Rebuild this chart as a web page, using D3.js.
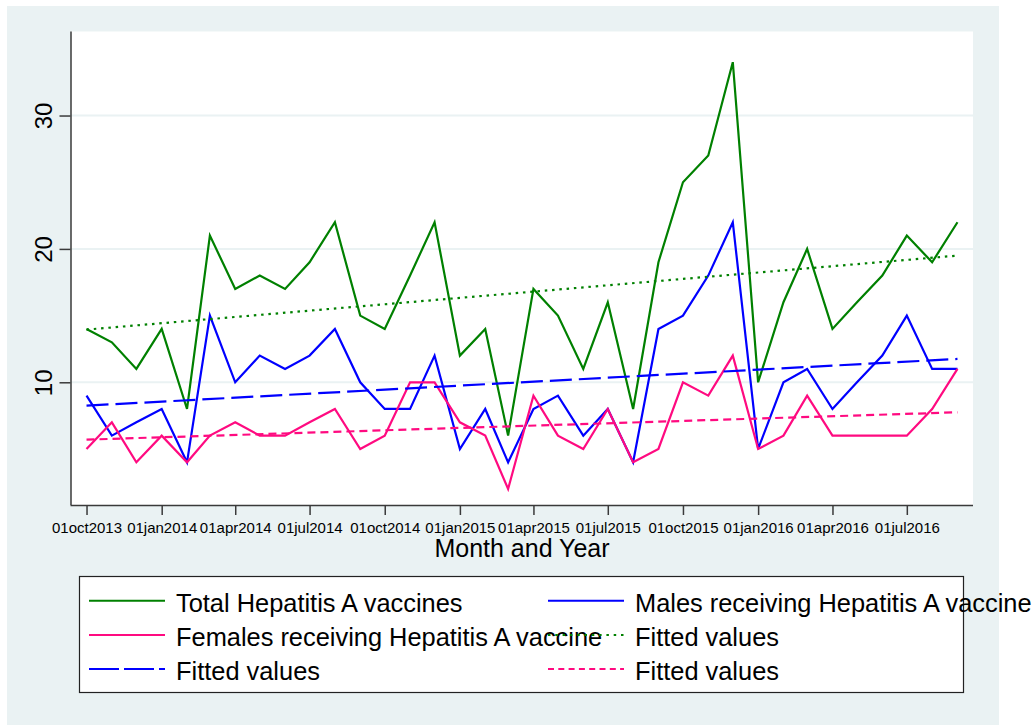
<!DOCTYPE html>
<html>
<head>
<meta charset="utf-8">
<script src="https://cdn.jsdelivr.net/npm/d3@7"></script>
<style>
  body { margin: 0; background: #ffffff; }
  text { font-family: "Liberation Sans", Arial, sans-serif; fill: #000; }
</style>
</head>
<body>
<div id="my_dataviz"></div>
<script>
// monthly data, Oct 2013 - Sep 2016
var months = ["2013-10-01","2013-11-01","2013-12-01","2014-01-01","2014-02-01","2014-03-01",
              "2014-04-01","2014-05-01","2014-06-01","2014-07-01","2014-08-01","2014-09-01",
              "2014-10-01","2014-11-01","2014-12-01","2015-01-01","2015-02-01","2015-03-01",
              "2015-04-01","2015-05-01","2015-06-01","2015-07-01","2015-08-01","2015-09-01",
              "2015-10-01","2015-11-01","2015-12-01","2016-01-01","2016-02-01","2016-03-01",
              "2016-04-01","2016-05-01","2016-06-01","2016-07-01","2016-08-01","2016-09-01"];
var totalVacc  = [14,13,11,14,8,21,17,18,17,19,22,15,14,18,22,12,14,6,17,15,11,16,8,19,25,27,34,10,16,20,14,16,18,21,19,22];
var malesVacc  = [9,6,7,8,4,15,10,12,11,12,14,10,8,8,12,5,8,4,8,9,6,8,4,14,15,18,22,5,10,11,8,10,12,15,11,11];
var femalesVacc = [5,7,4,6,4,6,7,6,6,7,8,5,6,10,10,7,6,2,9,6,5,8,4,5,10,9,12,5,6,9,6,6,6,6,8,11];

// fitted values at first and last month
var fitDates = ["2013-10-01","2016-09-01"];
var fitTotal = [13.95, 19.5];
var fitMales = [8.25, 11.75];
var fitFemales = [5.7, 7.75];

var tickDates = ["2013-10-01","2014-01-01","2014-04-01","2014-07-01","2014-10-01","2015-01-01",
                 "2015-04-01","2015-07-01","2015-10-01","2016-01-01","2016-04-01","2016-07-01"];
var yTicks = [10, 20, 30];

var legendLabels = ["Total Hepatitis A vaccines", "Males receiving Hepatitis A vaccine",
                    "Females receiving Hepatitis A vaccine", "Fitted values",
                    "Fitted values", "Fitted values"];

document.addEventListener('DOMContentLoaded', function () {
    var width = 1036, height = 725;
    var parseDate = d3.utcParse('%Y-%m-%d');
    var fmt = d3.utcFormat('%d%b%Y');

    var green = '#008000', blue = '#0000ff', pink = '#ff0a80';
    var bg = '#eaf2f3';

    var svg = d3.select('#my_dataviz').append('svg')
        .attr('width', width).attr('height', height);

    // graph region
    svg.append('rect').attr('x', 7).attr('y', 6).attr('width', 992).attr('height', 719).style('fill', bg);

    var left = 71, right = 973, top = 31.5, bottom = 505;
    svg.append('rect').attr('x', left).attr('y', top).attr('width', right - left).attr('height', bottom - top)
        .style('fill', '#fff');

    var x = d3.scaleUtc().domain([parseDate('2013-09-12'), parseDate('2016-09-20')]).range([left, right]);
    var y = d3.scaleLinear().domain([0.8, 36.3]).range([bottom, top]);

    // grid
    svg.selectAll('.grid').data(yTicks).enter().append('line')
        .attr('x1', left).attr('x2', right)
        .attr('y1', d => y(d)).attr('y2', d => y(d))
        .style('stroke', bg).style('stroke-width', 2);

    // axes
    var xAxis = d3.axisBottom(x).tickValues(tickDates.map(parseDate))
        .tickFormat(d => fmt(d).toLowerCase()).tickSize(10).tickSizeOuter(0).tickPadding(6);
    var gx = svg.append('g').attr('transform', 'translate(0,' + bottom + ')').call(xAxis);
    gx.selectAll('text').style('font-size', '15px').attr('dy', '0.71em').attr('y', 17);

    var yAxis = d3.axisLeft(y).tickValues(yTicks).tickSize(11).tickSizeOuter(0);
    var gy = svg.append('g').attr('transform', 'translate(' + (left - 0.5) + ',0)').call(yAxis);
    gy.selectAll('text').attr('transform', 'rotate(-90)')
        .attr('x', 0).attr('y', -19).attr('dy', 0)
        .attr('text-anchor', 'middle').style('font-size', '24px');

    svg.selectAll('.domain, .tick line').style('stroke', '#3a3a3a').style('stroke-width', 1.5);
    gx.select('.domain').attr('d', 'M' + (left - 0.5) + ',0.5H' + right);
    gy.select('.domain').attr('d', 'M0.5,' + bottom + 'V' + top);

    svg.append('text').attr('x', (left + right) / 2).attr('y', 557.3)
        .attr('text-anchor', 'middle').style('font-size', '25px').text('Month and Year');

    // series
    var line = d3.line().x(d => x(d[0])).y(d => y(d[1]));
    var dates = months.map(parseDate);
    var fd = fitDates.map(parseDate);

    var series = [
        {vals: totalVacc, dts: dates, color: green, dash: null},
        {vals: malesVacc, dts: dates, color: blue, dash: null},
        {vals: femalesVacc, dts: dates, color: pink, dash: null},
        {vals: fitTotal, dts: fd, color: green, dash: '2.5,4.8'},
        {vals: fitMales, dts: fd, color: blue, dash: '22,7'},
        {vals: fitFemales, dts: fd, color: pink, dash: '8,5'}
    ];

    series.forEach(function (s) {
        svg.append('path')
            .datum(s.dts.map((d, i) => [d, s.vals[i]]))
            .attr('d', line)
            .style('fill', 'none')
            .style('stroke', s.color)
            .style('stroke-width', 2.2)
            .style('stroke-linejoin', 'miter')
            .style('stroke-dasharray', s.dash);
    });

    // legend
    svg.append('rect').attr('x', 79.5).attr('y', 576.5).attr('width', 884).attr('height', 116)
        .style('fill', '#fff').style('stroke', '#222').style('stroke-width', 1.2);

    var colX = [89, 548], textX = [176, 635], rowY = [611.7, 646, 680];
    var legDash = [null, null, null, '2.5,4.8', '30,5', '6,4.3'];
    var items = svg.selectAll('.leg').data(series).enter().append('g');
    items.append('line')
        .attr('x1', (d, i) => colX[i % 2]).attr('x2', (d, i) => colX[i % 2] + 76)
        .attr('y1', (d, i) => rowY[Math.floor(i / 2)] - 11).attr('y2', (d, i) => rowY[Math.floor(i / 2)] - 11)
        .style('stroke', d => d.color).style('stroke-width', 2)
        .style('stroke-dasharray', (d, i) => legDash[i]);
    items.append('text')
        .attr('x', (d, i) => textX[i % 2]).attr('y', (d, i) => rowY[Math.floor(i / 2)])
        .style('font-size', '25.4px')
        .text((d, i) => legendLabels[i]);
});
</script>
</body>
</html>
